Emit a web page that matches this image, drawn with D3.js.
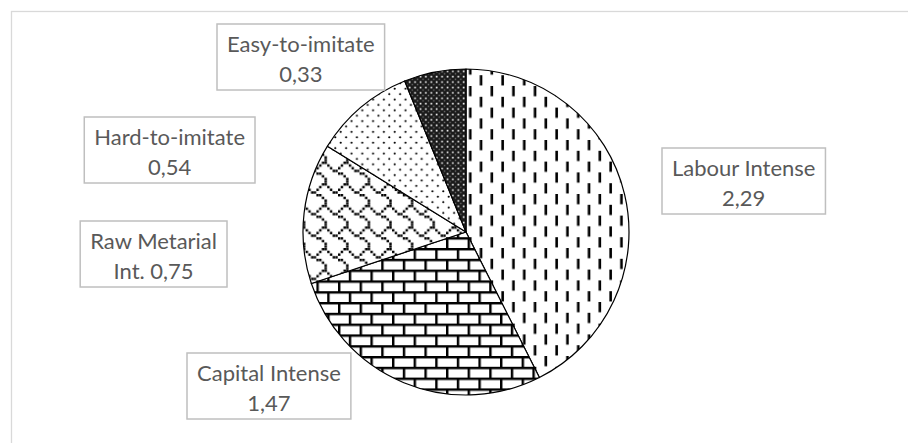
<!DOCTYPE html>
<html>
<head>
<meta charset="utf-8">
<script src="https://cdn.jsdelivr.net/npm/d3@7"></script>
<style>
  html, body { margin: 0; padding: 0; background: #fff; }
  #chart-container { width: 908px; height: 443px; }
  .label-text { font-family: Lato, "Open Sans", sans-serif; font-size: 22px; fill: #595959; }
</style>
</head>
<body>
<div id="chart-container"></div>
<script>
// data, clockwise from 12 o'clock
const categories = ["Labour Intense", "Capital Intense", "Raw Metarial Int.", "Hard-to-imitate", "Easy-to-imitate"];
const values = [2.29, 1.47, 0.75, 0.54, 0.33];
const valueLabels = ["2,29", "1,47", "0,75", "0,54", "0,33"];
const labelLines = [
    ["Labour Intense", "2,29"],
    ["Capital Intense", "1,47"],
    ["Raw Metarial", "Int. 0,75"],
    ["Hard-to-imitate", "0,54"],
    ["Easy-to-imitate", "0,33"]
];

// label box anchors: side = which edge x refers to
const labelLayout = [
    { x: 662, top: 148, side: "left" },
    { x: 187, top: 353, side: "left" },
    { x: 227, top: 221, side: "right" },
    { x: 255, top: 117, side: "right" },
    { x: 217, top: 24, side: "left" }
];

const width = 908;
const height = 443;
const cx = 466;
const cy = 232;
const radius = 163;
const s = 2.7; // pattern pixel scale

const svg = d3.select("#chart-container")
    .append("svg")
    .attr("width", width)
    .attr("height", height);

const defs = svg.append("defs");

function makePattern(id, w, h, bg) {
    const p = defs.append("pattern")
        .attr("id", id)
        .attr("patternUnits", "userSpaceOnUse")
        .attr("x", cx)
        .attr("y", cy)
        .attr("width", w)
        .attr("height", h);
    p.append("rect").attr("width", w).attr("height", h).attr("fill", bg);
    return p;
}

// dashed vertical, staggered columns
const pDash = makePattern("p-dash", 8 * s, 8 * s, "#fff");
pDash.append("rect").attr("x", 0.5 * s).attr("y", 0).attr("width", 2.6).attr("height", 3.8 * s).attr("fill", "#000");
pDash.append("rect").attr("x", 4.5 * s).attr("y", 4 * s).attr("width", 2.6).attr("height", 3.8 * s).attr("fill", "#000");

// horizontal brick
const pBrick = makePattern("p-brick", 8 * s, 8 * s, "#fff");
pBrick.append("rect").attr("x", 0).attr("y", 0).attr("width", 8 * s).attr("height", 0.9 * s).attr("fill", "#000");
pBrick.append("rect").attr("x", 0).attr("y", 4 * s).attr("width", 8 * s).attr("height", 0.9 * s).attr("fill", "#000");
pBrick.append("rect").attr("x", 0).attr("y", 0).attr("width", 0.9 * s).attr("height", 4 * s).attr("fill", "#000");
pBrick.append("rect").attr("x", 4 * s).attr("y", 4 * s).attr("width", 0.9 * s).attr("height", 4 * s).attr("fill", "#000");

// shingle
const shingleBits = [0x03, 0x84, 0x48, 0x30, 0x0C, 0x02, 0x01, 0x01];
const pShingle = makePattern("p-shingle", 8 * s, 8 * s, "#fff");
shingleBits.forEach((row, r) => {
    for (let c = 0; c < 8; c++) {
        if (row & (0x80 >> c)) {
            pShingle.append("rect")
                .attr("x", c * s).attr("y", r * s)
                .attr("width", s * 0.9).attr("height", s * 0.9)
                .attr("fill", "#000");
        }
    }
});

// dotted
const pDots = makePattern("p-dots", 4 * s, 4 * s, "#fff");
pDots.append("circle").attr("cx", 1 * s).attr("cy", 1 * s).attr("r", 1.1).attr("fill", "#000");
pDots.append("circle").attr("cx", 3 * s).attr("cy", 3 * s).attr("r", 1.1).attr("fill", "#000");

// dark trellis
const pDark = makePattern("p-dark", 2 * s, 2 * s, "#1a1a1a");
pDark.append("rect").attr("x", 0.25 * s).attr("y", 0.25 * s).attr("width", 0.6 * s).attr("height", 0.6 * s).attr("fill", "#fff");
pDark.append("rect").attr("x", 1.25 * s).attr("y", 1.25 * s).attr("width", 0.5 * s).attr("height", 0.5 * s).attr("fill", "#777");

const fills = ["url(#p-dash)", "url(#p-brick)", "url(#p-shingle)", "url(#p-dots)", "url(#p-dark)"];

// chart area border (right and bottom are outside the picture)
svg.append("rect")
    .attr("x", 11.5)
    .attr("y", 11.5)
    .attr("width", width + 20)
    .attr("height", height + 20)
    .attr("fill", "none")
    .attr("stroke", "#d9d9d9")
    .attr("stroke-width", 1.3);

const pie = d3.pie()
    .sort(null)
    .value(d => d);

const arc = d3.arc()
    .innerRadius(0)
    .outerRadius(radius);

const g = svg.append("g")
    .attr("transform", `translate(${cx},${cy})`);

g.selectAll(".slice")
    .data(pie(values))
    .enter()
    .append("path")
    .attr("class", "slice")
    .attr("d", arc)
    .attr("fill", (d, i) => fills[i])
    .attr("stroke", "#000")
    .attr("stroke-width", 1.2)
    .attr("stroke-linejoin", "round");

// data labels in boxes
const lineGap = 30;
const padX = 10;

labelLines.forEach((lines, i) => {
    const lay = labelLayout[i];
    const lg = svg.append("g").attr("class", "data-label");
    const box = lg.append("rect")
        .attr("fill", "#fff")
        .attr("stroke", "#bfbfbf")
        .attr("stroke-width", 1.5);
    const texts = lines.map((t, k) => lg.append("text")
        .attr("class", "label-text")
        .attr("text-anchor", "middle")
        .attr("dominant-baseline", "central")
        .attr("y", lay.top + 19.5 + k * lineGap)
        .text(t));
    const w = d3.max(texts, t => t.node().getComputedTextLength()) + 2 * padX;
    const left = lay.side === "left" ? lay.x : lay.x - w;
    box.attr("x", left).attr("y", lay.top).attr("width", w).attr("height", 66);
    texts.forEach(t => t.attr("x", left + w / 2));
});
</script>
</body>
</html>
